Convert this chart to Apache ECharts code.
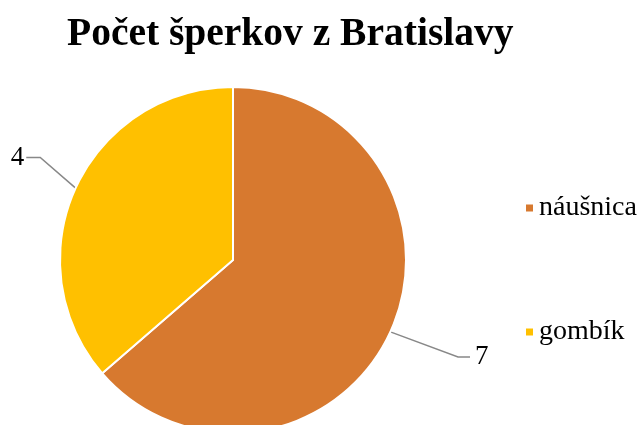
<!DOCTYPE html>
<html>
<head>
<meta charset="utf-8">
<script src="https://cdn.jsdelivr.net/npm/echarts@6/dist/echarts.min.js"></script>
<style>
  html, body { margin: 0; padding: 0; background: #fff; }
  #chart { width: 644px; height: 425px; }
</style>
</head>
<body>
<div id="chart"></div>
<script>
// data
const categories = ['náušnica', 'gombík'];
const values = [7, 4];
const colors = ['#D7792F', '#FFC000'];
const lineLengths = [[70, 12], [40, 14]]; // labelLine length, length2 per slice
const lineShift = [[4, -4], [1, -14]];    // nudge of the outer part of the leader line
const textShift = [[0, 0], [3, 0]];       // extra nudge of the value text only

const chart = echarts.init(document.getElementById('chart'));
const font = '"Liberation Serif", "Times New Roman", serif';

const option = {
  backgroundColor: '#fff',
  animation: false,
  title: {
    text: 'Počet šperkov z Bratislavy',
    left: 62,
    top: 10,
    textStyle: { fontFamily: font, fontSize: 39.5, fontWeight: 'bold', color: '#000' }
  },
  legend: {
    orient: 'vertical',
    left: 519,
    top: 189,
    itemWidth: 9,
    itemHeight: 9,
    itemGap: 96,
    icon: 'rect',
    textStyle: { fontFamily: font, fontSize: 28, color: '#000' },
    data: categories
  },
  series: [{
    type: 'pie',
    center: [233, 260],
    radius: 173,
    startAngle: 90,
    clockwise: true,
    itemStyle: { borderColor: '#fff', borderWidth: 2 },
    label: {
      show: true,
      formatter: '{c}',
      fontFamily: font,
      fontSize: 27,
      color: '#000',
      overflow: 'none'
    },
    labelLine: { lineStyle: { color: '#888', width: 1.5 } },
    labelLayout: (params) => {
      const s = lineShift[params.dataIndex];
      const t = textShift[params.dataIndex];
      const pts = params.labelLinePoints;
      const out = { dx: s[0] + t[0], dy: s[1] + t[1] };
      if (pts && pts.length === 3) {
        out.labelLinePoints = [
          [pts[0][0], pts[0][1]],
          [pts[1][0] + s[0], pts[1][1] + s[1]],
          [pts[2][0] + s[0], pts[2][1] + s[1]]
        ];
      }
      return out;
    },
    data: categories.map((name, i) => ({
      name: name,
      value: values[i],
      itemStyle: { color: colors[i] },
      labelLine: { length: lineLengths[i][0], length2: lineLengths[i][1] }
    }))
  }]
};
chart.setOption(option);
</script>
</body>
</html>
